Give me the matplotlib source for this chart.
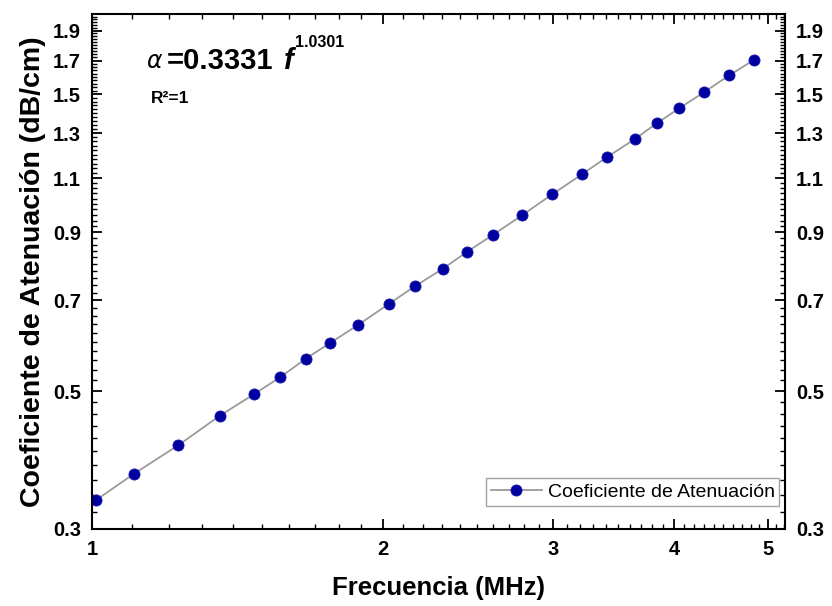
import numpy as np
import matplotlib
matplotlib.use('Agg')
from matplotlib import pyplot as plt
from matplotlib.ticker import FixedLocator, NullFormatter

plt.rcParams['font.family'] = ['Liberation Sans', 'DejaVu Sans']

# frecuencia (MHz) y coeficiente de atenuacion (dB/cm)
frecuencia = [1.010, 1.105, 1.228, 1.355, 1.470, 1.565, 1.665, 1.762, 1.883, 2.027,
              2.158, 2.305, 2.443, 2.597, 2.784, 2.993, 3.214, 3.407, 3.644, 3.837,
              4.049, 4.297, 4.561, 4.837]
atenuacion = [0.334, 0.368, 0.409, 0.456, 0.494, 0.526, 0.564, 0.597, 0.638, 0.690,
              0.737, 0.786, 0.837, 0.891, 0.958, 1.036, 1.116, 1.188, 1.271, 1.347,
              1.424, 1.512, 1.609, 1.703]

x_major = [1, 2, 3, 4, 5]
y_major = [0.3, 0.5, 0.7, 0.9, 1.1, 1.3, 1.5, 1.7, 1.9]
y_labels = ['0.3', '0.5', '0.7', '0.9', '1.1', '1.3', '1.5', '1.7', '1.9']

fig = plt.figure(figsize=(8.32, 6.06), dpi=100)
ax = fig.add_axes([0.1106, 0.1271, 0.8328, 0.8498])

ax.plot(frecuencia, atenuacion, color='#9a9a9a', lw=1.3, marker='o', ms=8,
        mfc='#0000a0', mec='#1a1ab0', mew=0.6, label='Coeficiente de Atenuación')

ax.set_xscale('log')
ax.set_yscale('log')
ax.set_xlim(1.0, 5.21)
ax.set_ylim(0.3, 2.02)

# ticks fijos, menores cada 0.1 MHz y cada 0.02 dB/cm
x_minor = [v for v in np.arange(1.1, 5.25, 0.1) if abs(v - round(v)) > 1e-6]
y_minor = [v for v in np.arange(0.32, 2.01, 0.02)
           if min(abs(v - m) for m in y_major) > 1e-6]
ax.xaxis.set_major_locator(FixedLocator(x_major))
ax.xaxis.set_minor_locator(FixedLocator(x_minor))
ax.xaxis.set_minor_formatter(NullFormatter())
ax.set_xticklabels([str(v) for v in x_major])
ax.yaxis.set_major_locator(FixedLocator(y_major))
ax.yaxis.set_minor_locator(FixedLocator(y_minor))
ax.yaxis.set_minor_formatter(NullFormatter())
ax.set_yticklabels(y_labels)

ax.tick_params(which='both', direction='in', top=True, right=True, labelright=True)
ax.tick_params(which='major', length=7, width=1.3, pad=8, labelsize=14.5)
ax.tick_params(which='minor', length=3.5, width=1.0)
for lab in ax.get_xticklabels() + ax.get_yticklabels():
    lab.set_fontweight('bold')
for sp in ax.spines.values():
    sp.set_linewidth(1.5)

ax.set_xlabel('Frecuencia (MHz)', fontsize=18.5, fontweight='bold', labelpad=12)
ax.set_ylabel('Coeficiente de Atenuación (dB/cm)', fontsize=20.5, fontweight='bold', labelpad=5)

leg = ax.legend(loc='lower right', bbox_to_anchor=(0.992, 0.045), fontsize=14,
                frameon=True, fancybox=False, handlelength=2.6, borderpad=0.25,
                handletextpad=0.3, borderaxespad=0)
leg.get_frame().set_edgecolor('#8c8c8c')
leg.get_frame().set_linewidth(1.0)

# ecuacion del ajuste
W, H = 832.0, 606.0
fig.text(146 / W, 1 - 68 / H, r'$\alpha$', fontsize=17, family='DejaVu Serif')
fig.text(167 / W, 1 - 69 / H, '=0.3331', fontsize=21, fontweight='bold')
fig.text(284 / W, 1 - 69 / H, 'f', fontsize=21, fontweight='bold', style='italic')
fig.text(295 / W, 1 - 47 / H, '1.0301', fontsize=11.5, fontweight='bold')
fig.text(151 / W, 1 - 103 / H, 'R²=1', fontsize=12.5, fontweight='bold')

plt.savefig('out.png', dpi=100)
